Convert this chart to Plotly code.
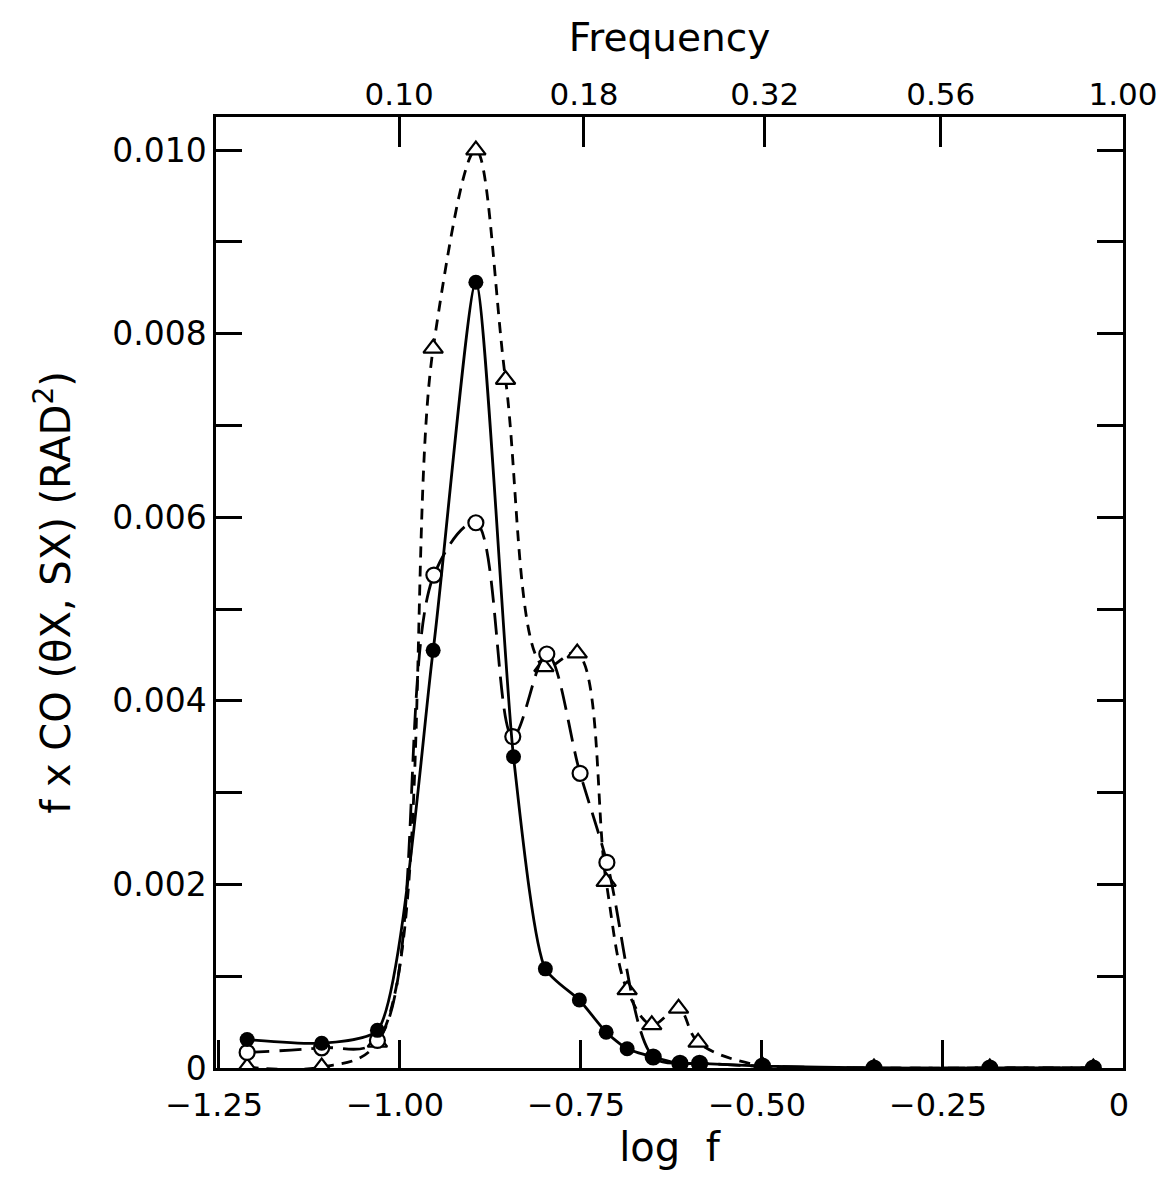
import numpy as np
import plotly.graph_objects as go

# ---- data ----
logf_filled = [-1.21, -1.107, -1.03, -0.953, -0.894, -0.842, -0.798, -0.751, -0.714,
               -0.685, -0.649, -0.612, -0.585, -0.498, -0.344, -0.184, -0.041]
co_filled = [0.00031, 0.00027, 0.00041, 0.00455, 0.00856, 0.00339, 0.00108, 0.00074, 0.00039,
             0.00021, 0.00012, 0.00005, 0.00005, 0.00002, 0.0, 0.0, 0.0]

logf_open = [-1.21, -1.107, -1.03, -0.952, -0.894, -0.843, -0.796, -0.750, -0.713,
             -0.649, -0.612, -0.585, -0.498, -0.344, -0.184, -0.041]
co_open = [0.00017, 0.00022, 0.00030, 0.00537, 0.00594, 0.00361, 0.00451, 0.00321, 0.00224,
           0.00012, 0.00005, 0.00005, 0.00002, 0.0, 0.0, 0.0]

logf_tri = [-1.21, -1.107, -1.03, -0.953, -0.894, -0.853, -0.800, -0.754, -0.714,
            -0.685, -0.651, -0.614, -0.587, -0.498, -0.344, -0.184, -0.041]
co_tri = [0.00001, 0.00001, 0.00028, 0.00784, 0.0100, 0.0075, 0.00437, 0.00452, 0.00203,
          0.00085, 0.00047, 0.00065, 0.00028, 0.00002, 0.0, 0.0, 0.0]

x_ticks = [-1.25, -1.00, -0.75, -0.50, -0.25, 0]
x_ticktext = ["\u22121.25", "\u22121.00", "\u22120.75", "\u22120.50", "\u22120.25", "0"]
freq_ticks = [0.10, 0.18, 0.32, 0.56, 1.00]
freq_ticktext = ["0.10", "0.18", "0.32", "0.56", "1.00"]
y_ticks = [0.000, 0.002, 0.004, 0.006, 0.008, 0.010]
y_ticktext = ["0", "0.002", "0.004", "0.006", "0.008", "0.010"]

FONT = "DejaVu Sans"
BLACK = "black"

fig = go.Figure()

fig.add_trace(go.Scatter(
    x=logf_tri, y=co_tri, mode="lines+markers",
    line=dict(color=BLACK, width=2.8, dash="11px,8px", shape="spline", smoothing=1.0),
    marker=dict(symbol="triangle-up", size=17, color="white",
                line=dict(color=BLACK, width=2.2)),
    showlegend=False))

fig.add_trace(go.Scatter(
    x=logf_open, y=co_open, mode="lines+markers",
    line=dict(color=BLACK, width=2.8, dash="22px,10px", shape="spline", smoothing=1.0),
    marker=dict(symbol="circle", size=15, color="white",
                line=dict(color=BLACK, width=2.2)),
    showlegend=False))

fig.add_trace(go.Scatter(
    x=logf_filled, y=co_filled, mode="lines+markers",
    line=dict(color=BLACK, width=2.8, shape="spline", smoothing=0.6),
    marker=dict(symbol="circle", size=15, color=BLACK),
    showlegend=False))

# invisible trace to activate the top frequency axis
fig.add_trace(go.Scatter(x=[-1.253, 0], y=[0, 0], xaxis="x2", mode="markers",
                         marker=dict(opacity=0), showlegend=False, hoverinfo="skip"))

fig.update_layout(
    width=1170, height=1182,
    margin=dict(l=216, r=44, t=117, b=114),
    paper_bgcolor="white", plot_bgcolor="white",
    font=dict(family=FONT, color=BLACK, size=32),
    xaxis=dict(
        range=[-1.253, 0], tickvals=x_ticks, ticktext=x_ticktext,
        ticks="inside", ticklen=28, tickwidth=2.5, tickcolor=BLACK,
        showline=True, linecolor=BLACK, linewidth=2.5, mirror=True,
        showgrid=False, zeroline=False,
        tickfont=dict(size=32, family=FONT),
        ticklabelstandoff=7, ticklabelshift=-4,
        title=dict(text="log  f", font=dict(size=40, family=FONT), standoff=6),
    ),
    xaxis2=dict(
        range=[-1.253, 0], overlaying="x", side="top",
        tickvals=list(np.log10(freq_ticks)), ticktext=freq_ticktext,
        ticks="inside", ticklen=30, tickwidth=2.5, tickcolor=BLACK,
        showline=False, showgrid=False, zeroline=False,
        tickfont=dict(size=31, family=FONT),
        ticklabelstandoff=5,
        title=dict(text="Frequency", font=dict(size=39, family=FONT), standoff=12),
    ),
    yaxis=dict(
        range=[0, 0.01036], tickvals=y_ticks, ticktext=y_ticktext,
        ticks="inside", ticklen=26, tickwidth=2.5, tickcolor=BLACK,
        minor=dict(ticks="inside", ticklen=26, tickwidth=2.5, tickcolor=BLACK,
                   tick0=0, dtick=0.001, showgrid=False),
        showline=True, linecolor=BLACK, linewidth=2.5, mirror="ticks",
        showgrid=False, zeroline=False,
        tickfont=dict(size=33, family=FONT),
        title=dict(text="f x CO (\u03b8X, SX) (RAD<sup>2</sup>)",
                   font=dict(size=40, family=FONT), standoff=30),
    ),
)

fig.write_html("out.html")
